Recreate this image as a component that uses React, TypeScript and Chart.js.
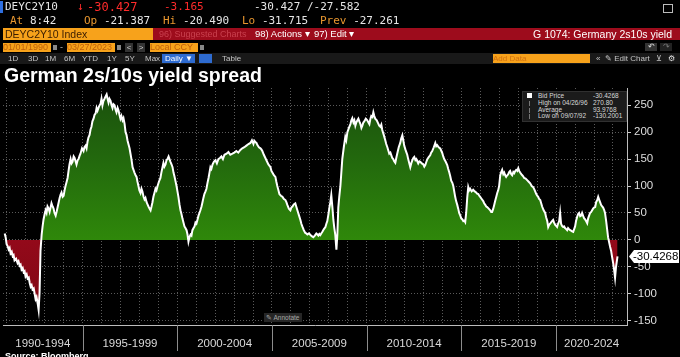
import React, { useEffect, useRef } from 'react';
import { Chart, registerables } from 'chart.js';

Chart.register(...registerables);

// ---- data: [decimal year, 2s10s spread in bp] ----
const observations: [number, number][] = [
  [1990.89, 12], [1990.94, 5], [1990.99, -8], [1991.05, -12], [1991.10, -18], [1991.15, -15], [1991.20, -25], [1991.26, -22],
  [1991.31, -30], [1991.36, -28], [1991.41, -38], [1991.49, -35], [1991.57, -43], [1991.62, -40], [1991.68, -48], [1991.73, -46],
  [1991.78, -55], [1991.84, -52], [1991.89, -60], [1991.94, -58], [1991.99, -68], [1992.05, -64], [1992.10, -72], [1992.16, -70],
  [1992.21, -80], [1992.26, -87], [1992.31, -84], [1992.36, -92], [1992.42, -90], [1992.47, -100], [1992.52, -110], [1992.57, -106],
  [1992.63, -118], [1992.68, -130], [1992.73, -98], [1992.78, -20], [1992.84, 10], [1992.89, 25], [1992.94, 38], [1993.00, 48],
  [1993.05, 55], [1993.10, 50], [1993.15, 62], [1993.21, 58], [1993.26, 52], [1993.31, 60], [1993.36, 68], [1993.42, 62],
  [1993.47, 58], [1993.52, 50], [1993.58, 45], [1993.63, 52], [1993.68, 60], [1993.74, 70], [1993.79, 78], [1993.84, 84],
  [1993.89, 88], [1993.95, 80], [1994.00, 82], [1994.05, 92], [1994.10, 100], [1994.16, 108], [1994.21, 115], [1994.26, 128],
  [1994.31, 140], [1994.37, 150], [1994.42, 142], [1994.47, 145], [1994.53, 155], [1994.58, 152], [1994.63, 146], [1994.68, 140],
  [1994.74, 148], [1994.79, 150], [1994.84, 156], [1994.89, 160], [1994.97, 170], [1995.05, 165], [1995.10, 172], [1995.16, 175],
  [1995.21, 170], [1995.26, 182], [1995.31, 190], [1995.37, 195], [1995.42, 205], [1995.47, 210], [1995.52, 220], [1995.58, 225],
  [1995.63, 232], [1995.69, 235], [1995.74, 245], [1995.79, 240], [1995.87, 248], [1995.95, 253], [1996.00, 262], [1996.05, 250],
  [1996.10, 258], [1996.16, 262], [1996.21, 266], [1996.27, 270], [1996.32, 262], [1996.37, 255], [1996.42, 262], [1996.48, 258],
  [1996.53, 250], [1996.58, 245], [1996.63, 252], [1996.69, 250], [1996.74, 242], [1996.79, 237], [1996.85, 245], [1996.90, 240],
  [1996.95, 232], [1997.00, 225], [1997.05, 230], [1997.11, 222], [1997.16, 226], [1997.22, 215], [1997.27, 200], [1997.32, 195],
  [1997.37, 185], [1997.42, 178], [1997.48, 170], [1997.53, 160], [1997.58, 150], [1997.64, 135], [1997.69, 130], [1997.74, 125],
  [1997.80, 120], [1997.85, 117], [1997.90, 108], [1997.95, 100], [1998.00, 92], [1998.06, 87], [1998.11, 95], [1998.16, 90],
  [1998.22, 80], [1998.27, 75], [1998.32, 78], [1998.38, 70], [1998.43, 66], [1998.48, 62], [1998.54, 58], [1998.59, 55],
  [1998.64, 62], [1998.69, 70], [1998.74, 80], [1998.80, 88], [1998.85, 95], [1998.90, 92], [1998.96, 100], [1999.03, 108],
  [1999.11, 115], [1999.16, 125], [1999.22, 135], [1999.27, 143], [1999.32, 136], [1999.38, 140], [1999.43, 148], [1999.48, 150],
  [1999.54, 155], [1999.59, 150], [1999.64, 145], [1999.70, 140], [1999.75, 135], [1999.80, 125], [1999.85, 118], [1999.90, 110],
  [1999.96, 100], [2000.01, 90], [2000.06, 80], [2000.12, 65], [2000.17, 55], [2000.22, 48], [2000.27, 40], [2000.33, 32],
  [2000.38, 25], [2000.43, 22], [2000.49, 18], [2000.54, 10], [2000.59, -3], [2000.64, 5], [2000.70, 10], [2000.75, 8],
  [2000.80, 18], [2000.86, 22], [2000.91, 25], [2000.96, 32], [2001.01, 30], [2001.07, 38], [2001.12, 45], [2001.17, 50],
  [2001.22, 55], [2001.28, 62], [2001.33, 70], [2001.38, 78], [2001.43, 85], [2001.49, 90], [2001.54, 95], [2001.59, 105],
  [2001.65, 115], [2001.70, 125], [2001.75, 135], [2001.80, 132], [2001.86, 140], [2001.93, 145], [2002.01, 148], [2002.09, 142],
  [2002.17, 150], [2002.25, 152], [2002.33, 155], [2002.41, 150], [2002.49, 158], [2002.60, 160], [2002.70, 163], [2002.80, 158],
  [2002.91, 160], [2003.01, 162], [2003.12, 165], [2003.22, 162], [2003.33, 167], [2003.43, 170], [2003.54, 172], [2003.65, 175],
  [2003.76, 178], [2003.86, 180], [2003.94, 185], [2004.02, 178], [2004.07, 184], [2004.12, 182], [2004.18, 180], [2004.23, 176],
  [2004.31, 172], [2004.39, 170], [2004.44, 168], [2004.49, 165], [2004.57, 158], [2004.65, 152], [2004.73, 146], [2004.81, 140],
  [2004.86, 138], [2004.92, 135], [2004.97, 128], [2005.02, 125], [2005.10, 120], [2005.18, 117], [2005.23, 108], [2005.28, 100],
  [2005.34, 92], [2005.39, 85], [2005.47, 82], [2005.55, 80], [2005.63, 76], [2005.71, 74], [2005.76, 70], [2005.81, 65],
  [2005.89, 58], [2005.97, 55], [2006.02, 60], [2006.08, 62], [2006.15, 66], [2006.23, 68], [2006.28, 62], [2006.34, 55],
  [2006.42, 46], [2006.50, 37], [2006.55, 30], [2006.60, 25], [2006.68, 18], [2006.76, 13], [2006.81, 12], [2006.87, 10],
  [2006.95, 12], [2007.03, 9], [2007.10, 7], [2007.18, 5], [2007.26, 8], [2007.34, 12], [2007.40, 10], [2007.45, 8],
  [2007.50, 11], [2007.55, 9], [2007.60, 12], [2007.66, 15], [2007.74, 20], [2007.82, 24], [2007.87, 30], [2007.92, 35],
  [2007.98, 48], [2008.03, 60], [2008.08, 70], [2008.13, 83], [2008.19, 60], [2008.24, 37], [2008.29, 22], [2008.34, 10],
  [2008.40, -18], [2008.45, 10], [2008.50, 60], [2008.55, 80], [2008.61, 100], [2008.66, 125], [2008.71, 150], [2008.79, 172],
  [2008.87, 191], [2008.92, 185], [2008.98, 200], [2009.06, 208], [2009.14, 215], [2009.19, 222], [2009.24, 226], [2009.30, 218],
  [2009.35, 222], [2009.40, 212], [2009.45, 218], [2009.51, 222], [2009.56, 225], [2009.61, 220], [2009.66, 216], [2009.72, 208],
  [2009.77, 212], [2009.82, 218], [2009.87, 220], [2009.95, 225], [2010.03, 222], [2010.09, 218], [2010.14, 215], [2010.19, 224],
  [2010.24, 230], [2010.30, 228], [2010.35, 237], [2010.40, 230], [2010.45, 225], [2010.53, 222], [2010.61, 216], [2010.66, 212],
  [2010.72, 210], [2010.77, 214], [2010.82, 204], [2010.90, 195], [2010.98, 185], [2011.03, 178], [2011.09, 172], [2011.14, 166],
  [2011.19, 160], [2011.25, 162], [2011.30, 157], [2011.35, 152], [2011.40, 150], [2011.45, 146], [2011.51, 143], [2011.56, 152],
  [2011.61, 160], [2011.69, 172], [2011.77, 180], [2011.82, 188], [2011.88, 194], [2011.93, 185], [2011.98, 175], [2012.04, 168],
  [2012.09, 163], [2012.14, 158], [2012.19, 150], [2012.25, 142], [2012.30, 135], [2012.35, 142], [2012.41, 148], [2012.46, 152],
  [2012.51, 154], [2012.57, 148], [2012.62, 150], [2012.67, 146], [2012.72, 142], [2012.78, 146], [2012.83, 145], [2012.91, 142],
  [2012.99, 140], [2013.04, 136], [2013.09, 139], [2013.15, 145], [2013.20, 150], [2013.28, 154], [2013.35, 157], [2013.40, 162],
  [2013.46, 165], [2013.54, 172], [2013.62, 180], [2013.67, 174], [2013.72, 176], [2013.80, 172], [2013.88, 170], [2013.93, 166],
  [2013.99, 161], [2014.04, 155], [2014.09, 150], [2014.17, 145], [2014.25, 139], [2014.30, 132], [2014.36, 125], [2014.41, 118],
  [2014.46, 110], [2014.52, 106], [2014.57, 100], [2014.62, 90], [2014.67, 80], [2014.72, 72], [2014.78, 65], [2014.83, 58],
  [2014.88, 50], [2014.94, 45], [2014.99, 40], [2015.05, 38], [2015.10, 35], [2015.15, 36], [2015.20, 33], [2015.25, 50],
  [2015.31, 80], [2015.36, 98], [2015.41, 92], [2015.46, 95], [2015.54, 90], [2015.62, 93], [2015.70, 90], [2015.78, 88],
  [2015.83, 86], [2015.89, 85], [2015.94, 82], [2015.99, 80], [2016.07, 76], [2016.15, 72], [2016.20, 68], [2016.26, 65],
  [2016.31, 62], [2016.36, 61], [2016.44, 58], [2016.52, 55], [2016.57, 52], [2016.62, 52], [2016.68, 58], [2016.73, 65],
  [2016.78, 72], [2016.84, 80], [2016.89, 87], [2016.94, 92], [2016.99, 100], [2017.05, 120], [2017.10, 126], [2017.15, 130],
  [2017.21, 122], [2017.26, 125], [2017.31, 120], [2017.36, 117], [2017.42, 120], [2017.47, 122], [2017.52, 126], [2017.57, 128],
  [2017.63, 122], [2017.68, 120], [2017.74, 126], [2017.79, 124], [2017.84, 128], [2017.89, 130], [2017.95, 128], [2018.00, 133],
  [2018.05, 128], [2018.10, 125], [2018.16, 122], [2018.21, 120], [2018.26, 118], [2018.31, 115], [2018.39, 114], [2018.47, 111],
  [2018.55, 108], [2018.63, 105], [2018.71, 100], [2018.79, 98], [2018.87, 92], [2018.95, 85], [2019.00, 82], [2019.05, 80],
  [2019.10, 76], [2019.16, 74], [2019.21, 68], [2019.26, 62], [2019.34, 55], [2019.42, 50], [2019.47, 42], [2019.53, 35],
  [2019.58, 24], [2019.63, 28], [2019.68, 30], [2019.76, 34], [2019.84, 37], [2019.89, 32], [2019.95, 28], [2020.00, 26],
  [2020.05, 24], [2020.10, 30], [2020.16, 35], [2020.21, 50], [2020.26, 30], [2020.31, 26], [2020.37, 24], [2020.42, 25],
  [2020.47, 22], [2020.53, 20], [2020.58, 18], [2020.63, 22], [2020.68, 20], [2020.74, 18], [2020.79, 17], [2020.84, 16],
  [2020.90, 15], [2020.95, 20], [2021.00, 25], [2021.05, 35], [2021.11, 43], [2021.16, 48], [2021.21, 50], [2021.27, 44],
  [2021.32, 45], [2021.37, 50], [2021.43, 44], [2021.48, 40], [2021.53, 38], [2021.58, 35], [2021.64, 31], [2021.69, 40],
  [2021.74, 45], [2021.79, 50], [2021.85, 52], [2021.90, 55], [2021.95, 58], [2022.00, 60], [2022.06, 61], [2022.11, 70],
  [2022.17, 74], [2022.22, 80], [2022.27, 75], [2022.32, 70], [2022.37, 65], [2022.43, 62], [2022.48, 60], [2022.53, 56],
  [2022.58, 50], [2022.64, 35], [2022.69, 20], [2022.74, 5], [2022.80, -5], [2022.85, -13], [2022.90, -20], [2022.95, -31],
  [2023.01, -43], [2023.06, -55], [2023.11, -70], [2023.16, -50], [2023.24, -30.4268],
];

const yTickValues = [-150, -125, -100, -75, -50, -25, 0, 25, 50, 75, 100, 125, 150, 175, 200, 225, 250, 275];
const gridYears = [1991, 1992, 1993, 1994, 1995, 1996, 1997, 1998, 1999, 2000, 2001, 2002, 2003, 2004, 2005, 2006, 2007, 2008, 2009, 2010, 2011, 2012, 2013, 2014, 2015, 2016, 2017, 2018, 2019, 2020, 2021, 2022, 2023];
const bandStarts = [1990, 1995, 2000, 2005, 2010, 2015, 2020];
const bandLabels = ['1990-1994', '1995-1999', '2000-2004', '2005-2009', '2010-2014', '2015-2019', '2020-2024'];
const lastValueText = '-30.4268';
const legendNames = ['Bid Price', 'High on 04/26/96', 'Average', 'Low on 09/07/92'];
const legendValues = ['-30.4268', '270.80', '93.9768', '-130.2001'];

const X_MIN = 1990.8;
const X_MAX = 2023.74;

const overlayPlugin = {
  id: 'bbgOverlay',
  afterDraw(chart: any) {
    const { ctx, chartArea, scales } = chart;
    const xs = scales.x;
    const ys = scales.y;
    ctx.save();
    ctx.strokeStyle = '#8c8c8c';
    ctx.lineWidth = 1;
    bandStarts.forEach((s, i) => {
      if (i > 0) {
        const px = Math.round(xs.getPixelForValue(s)) + 0.5;
        ctx.beginPath();
        ctx.moveTo(px, chartArea.bottom);
        ctx.lineTo(px, chartArea.bottom + 26);
        ctx.stroke();
      }
      const a = Math.max(chartArea.left, xs.getPixelForValue(s));
      const b = Math.min(chartArea.right, xs.getPixelForValue(s + 5));
      ctx.fillStyle = '#dadada';
      ctx.font = '11.5px "Liberation Sans", Arial, sans-serif';
      ctx.textAlign = 'center';
      ctx.textBaseline = 'middle';
      ctx.fillText(bandLabels[i], (a + b) / 2, chartArea.bottom + 19);
    });
    const lastV = observations[observations.length - 1][1];
    const py = Math.round(ys.getPixelForValue(lastV)) + 0.5;
    const bx = chartArea.right + 2;
    ctx.fillStyle = '#ffffff';
    ctx.beginPath();
    ctx.moveTo(bx, py);
    ctx.lineTo(bx + 5, py - 6.5);
    ctx.lineTo(bx + 50, py - 6.5);
    ctx.lineTo(bx + 50, py + 6.5);
    ctx.lineTo(bx + 5, py + 6.5);
    ctx.closePath();
    ctx.fill();
    ctx.fillStyle = '#000000';
    ctx.font = '11.5px "Liberation Sans", Arial, sans-serif';
    ctx.textAlign = 'left';
    ctx.textBaseline = 'middle';
    ctx.fillText(lastValueText, bx + 4, py + 0.5);
    ctx.restore();
  },
};

const abs = (s: any) => ({ position: 'absolute' as const, whiteSpace: 'nowrap' as const, ...s });
const MONO = '"DejaVu Sans Mono", monospace';
const SANS = '"Liberation Sans", Arial, sans-serif';
const ORANGE = '#f7a21b';
const AMBER_TXT = '#e9972f';

export default function App() {
  const canvasRef = useRef<HTMLCanvasElement | null>(null);

  useEffect(() => {
    document.body.style.margin = '0';
    document.body.style.background = '#000';
    const canvas = canvasRef.current;
    if (!canvas) return;
    const points = observations.map(([d, v]) => ({ x: d, y: v }));
    const chart = new Chart(canvas, {
      type: 'line',
      data: {
        datasets: [
          {
            data: points,
            borderColor: '#ffffff',
            borderWidth: 2,
            pointRadius: 0,
            tension: 0,
            fill: { target: { value: 0 } },
            backgroundColor: (c: any) => {
              const ch = c.chart;
              const area = ch.chartArea;
              if (!area) return '#2a7a0c';
              const z = ch.scales.y.getPixelForValue(0);
              const g = ch.ctx.createLinearGradient(0, area.top, 0, area.bottom);
              const f = Math.min(0.999, Math.max(0.001, (z - area.top) / (area.bottom - area.top)));
              g.addColorStop(0, '#1a4f0d');
              g.addColorStop(f * 0.5, '#236a0d');
              g.addColorStop(f, '#2f880a');
              g.addColorStop(Math.min(1, f + 0.0005), '#93091a');
              g.addColorStop(1, '#7d0712');
              return g;
            },
          } as any,
        ],
      },
      options: {
        animation: false,
        responsive: false,
        devicePixelRatio: 1,
        layout: { padding: { top: 88, left: 3, right: 0, bottom: 0 } },
        plugins: { legend: { display: false }, tooltip: { enabled: false } },
        scales: {
          x: {
            type: 'linear',
            min: X_MIN,
            max: X_MAX,
            afterBuildTicks: (s: any) => {
              s.ticks = gridYears.map((v) => ({ value: v }));
            },
            afterFit: (s: any) => {
              s.height = 32;
            },
            ticks: { display: false },
            grid: { color: '#5a5a5a', lineWidth: 1, drawTicks: false },
            border: { color: '#bdbdbd', width: 1, dash: [1, 2] },
          },
          y: {
            type: 'linear',
            position: 'right',
            min: -158,
            max: 282,
            afterBuildTicks: (s: any) => {
              s.ticks = yTickValues.map((v) => ({ value: v }));
            },
            afterFit: (s: any) => {
              s.width = 53;
            },
            ticks: {
              color: '#dedede',
              padding: 3,
              font: { family: '"Liberation Sans", Arial, sans-serif', size: 11.5 },
              callback: (v: any) => (Number(v) % 50 === 0 ? String(v) : ''),
            },
            grid: {
              color: '#5a5a5a',
              lineWidth: 1,
              tickLength: 4,
              tickColor: (c: any) => (c.tick && c.tick.value % 50 === 0 ? '#cfcfcf' : 'rgba(0,0,0,0)'),
            },
            border: { color: '#bdbdbd', width: 1, dash: [1, 2] },
          },
        },
      },
      plugins: [overlayPlugin],
    });
    return () => chart.destroy();
  }, []);

  return (
    <div style={{ position: 'fixed', left: 0, top: 0, width: 680, height: 357, background: '#000', overflow: 'hidden' }}>
      <canvas ref={canvasRef} width={680} height={357} style={{ position: 'absolute', left: 0, top: 0, width: 680, height: 357 }} />

      {/* row 1 */}
      <div style={abs({ left: 0, top: 1, width: 3, height: 12, background: '#2f6fe0' })} />
      <div style={abs({ left: 5, top: 0, fontFamily: MONO, fontSize: 11, lineHeight: '14px', color: '#e6e6e6' })}>DEYC2Y10</div>
      <div style={abs({ left: 77, top: 0, fontFamily: MONO, fontSize: 11, lineHeight: '14px', color: '#ff2b2b' })}>↓</div>
      <div style={abs({ left: 87, top: 0, fontFamily: MONO, fontSize: 12, lineHeight: '14px', color: '#ff2b2b' })}>-30.427</div>
      <div style={abs({ left: 164, top: 0, fontFamily: MONO, fontSize: 11, lineHeight: '14px', color: '#ff2b2b' })}>-3.165</div>
      <div style={abs({ left: 254, top: 0, fontFamily: MONO, fontSize: 11, lineHeight: '14px', color: '#e6e6e6' })}>-30.427 /-27.582</div>
      <div style={abs({ left: 663, top: 4, width: 8, height: 7, border: '1px solid #bbb' })} />

      {/* row 2 */}
      <div style={abs({ left: 10, top: 14, fontFamily: MONO, fontSize: 11, lineHeight: '14px', color: AMBER_TXT })}>At <span style={{ color: '#e6e6e6' }}>8:42</span></div>
      <div style={abs({ left: 84, top: 14, fontFamily: MONO, fontSize: 11, lineHeight: '14px', color: AMBER_TXT })}>Op <span style={{ color: '#e6e6e6' }}>-21.387</span></div>
      <div style={abs({ left: 163, top: 14, fontFamily: MONO, fontSize: 11, lineHeight: '14px', color: AMBER_TXT })}>Hi <span style={{ color: '#e6e6e6' }}>-20.490</span></div>
      <div style={abs({ left: 242, top: 14, fontFamily: MONO, fontSize: 11, lineHeight: '14px', color: AMBER_TXT })}>Lo <span style={{ color: '#e6e6e6' }}>-31.715</span></div>
      <div style={abs({ left: 320, top: 14, fontFamily: MONO, fontSize: 11, lineHeight: '14px', color: AMBER_TXT })}>Prev <span style={{ color: '#e6e6e6' }}>-27.261</span></div>

      {/* row 3 */}
      <div style={abs({ left: 3, top: 28, width: 150, height: 12, background: ORANGE })} />
      <div style={abs({ left: 5, top: 28, fontFamily: SANS, fontSize: 10.5, lineHeight: '12px', color: '#3a1c00' })}>DEYC2Y10 Index</div>
      <div style={abs({ left: 153, top: 28, width: 527, height: 12, background: '#9d0c1c' })} />
      <div style={abs({ left: 159, top: 28, fontFamily: SANS, fontSize: 9, lineHeight: '12px', color: '#c9404e' })}>96) Suggested Charts</div>
      <div style={abs({ left: 255, top: 28, fontFamily: SANS, fontSize: 9.5, lineHeight: '12px', color: '#ffffff' })}>98) Actions ▾</div>
      <div style={abs({ left: 314, top: 28, fontFamily: SANS, fontSize: 9.5, lineHeight: '12px', color: '#ffffff' })}>97) Edit ▾</div>
      <div style={abs({ right: 8, top: 28, fontFamily: SANS, fontSize: 10.5, lineHeight: '12px', color: '#ffffff' })}>G 1074: Germany 2s10s yield</div>

      {/* row 4 */}
      <div style={abs({ left: 3, top: 43, width: 48, height: 9, background: ORANGE, fontFamily: SANS, fontSize: 9, lineHeight: '9px', color: '#c0600a' })}>01/01/1990</div>
      <div style={abs({ left: 53, top: 45, width: 4, height: 5, background: '#888' })} />
      <div style={abs({ left: 60, top: 42, fontFamily: SANS, fontSize: 9, lineHeight: '10px', color: '#bbb' })}>-</div>
      <div style={abs({ left: 67, top: 43, width: 48, height: 9, background: ORANGE, fontFamily: SANS, fontSize: 9, lineHeight: '9px', color: '#c0600a' })}>03/27/2023</div>
      <div style={abs({ left: 117, top: 45, width: 4, height: 5, background: '#888' })} />
      <div style={abs({ left: 125, top: 43, width: 8, height: 9, background: '#333', fontFamily: SANS, fontSize: 8, lineHeight: '9px', color: '#ccc', textAlign: 'center' })}>&lt;</div>
      <div style={abs({ left: 137, top: 43, width: 8, height: 9, background: '#333', fontFamily: SANS, fontSize: 8, lineHeight: '9px', color: '#ccc', textAlign: 'center' })}>&gt;</div>
      <div style={abs({ left: 150, top: 43, width: 48, height: 9, background: ORANGE, fontFamily: SANS, fontSize: 9, lineHeight: '9px', color: '#c0600a' })}>Local CCY</div>
      <div style={abs({ left: 200, top: 45, width: 4, height: 5, background: '#888' })} />
      <div style={abs({ left: 645, top: 43, width: 12, height: 8, background: '#333', fontFamily: SANS, fontSize: 8, lineHeight: '8px', color: '#ddd', textAlign: 'center' })}>↶</div>
      <div style={abs({ left: 660, top: 43, width: 12, height: 8, background: '#222', fontFamily: SANS, fontSize: 8, lineHeight: '8px', color: '#777', textAlign: 'center' })}>↷</div>

      {/* row 5 */}
      <div style={abs({ left: 0, top: 53, width: 680, height: 11, background: '#191919' })} />
      {[['1D', 8], ['3D', 28], ['1M', 45], ['6M', 64], ['YTD', 82], ['1Y', 107], ['5Y', 125], ['Max', 145], ['Table', 222]].map(([t, l]) => (
        <div key={String(t)} style={abs({ left: Number(l), top: 54, fontFamily: SANS, fontSize: 8, lineHeight: '10px', color: '#c4c4c4' })}>{t}</div>
      ))}
      <div style={abs({ left: 162, top: 54, width: 33, height: 9, background: '#2e6bd0', fontFamily: SANS, fontSize: 8, lineHeight: '9px', color: '#fff', paddingLeft: 3, boxSizing: 'border-box' })}>Daily ▼</div>
      <div style={abs({ left: 199, top: 54, width: 13, height: 9, background: '#2e6bd0' })} />
      <div style={abs({ left: 493, top: 54, width: 97, height: 9, background: ORANGE, fontFamily: SANS, fontSize: 8, lineHeight: '9px', color: '#d07010' })}>Add Data</div>
      <div style={abs({ left: 596, top: 54, fontFamily: SANS, fontSize: 8, lineHeight: '10px', color: '#c4c4c4' })}>«</div>
      <div style={abs({ left: 605, top: 54, fontFamily: SANS, fontSize: 8, lineHeight: '10px', color: '#c4c4c4' })}>✎ Edit Chart</div>
      <div style={abs({ left: 656, top: 54, fontFamily: SANS, fontSize: 8, lineHeight: '10px', color: '#c4c4c4' })}>⊻</div>
      <div style={abs({ left: 668, top: 54, fontFamily: SANS, fontSize: 8, lineHeight: '10px', color: '#e0e0e0' })}>⚙</div>

      {/* title */}
      <div style={abs({ left: 4, top: 64, fontFamily: SANS, fontWeight: 'bold', fontSize: 19.5, lineHeight: '22px', color: '#ffffff' })}>German 2s/10s yield spread</div>

      {/* legend box */}
      <div style={abs({ left: 522, top: 91, width: 105, height: 31, background: '#1b1b1b', border: '1px solid #303030', boxSizing: 'border-box' })} />
      <div style={abs({ left: 527, top: 93, width: 5, height: 5, background: '#ffffff' })} />
      {legendNames.map((n, i) => (
        <React.Fragment key={n}>
          {i > 0 && <div style={abs({ left: 529, top: 94 + i * 6.8, width: 1, height: 5, background: '#777' })} />}
          <div style={abs({ left: 538, top: 92 + i * 6.8, fontFamily: SANS, fontSize: 6.5, lineHeight: '7px', color: '#d8d8d8' })}>{n}</div>
          <div style={abs({ left: 593, top: 92 + i * 6.8, fontFamily: SANS, fontSize: 6.5, lineHeight: '7px', color: '#d8d8d8' })}>{legendValues[i]}</div>
        </React.Fragment>
      ))}

      {/* annotate */}
      <div style={abs({ left: 264, top: 313, width: 38, height: 9, background: '#262626', fontFamily: SANS, fontSize: 6.5, lineHeight: '9px', color: '#a8a8a8', paddingLeft: 2, boxSizing: 'border-box' })}>✎ Annotate</div>

      {/* source */}
      <div style={abs({ left: 5, top: 351, fontFamily: SANS, fontWeight: 'bold', fontSize: 9, lineHeight: '10px', color: '#ffffff' })}>Source: Bloomberg</div>
    </div>
  );
}
